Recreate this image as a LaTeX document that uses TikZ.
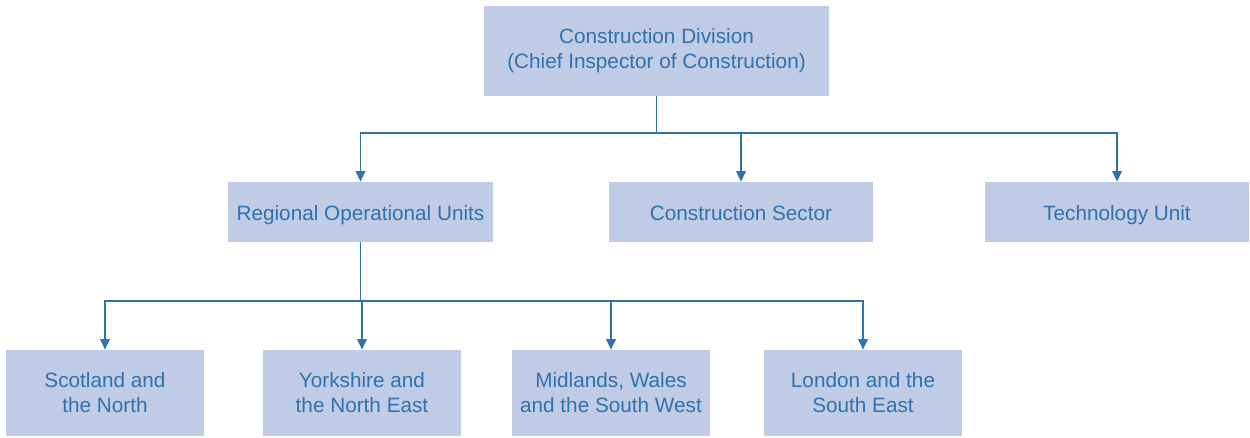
\documentclass[tikz,border=0pt]{standalone}
\usepackage{fontspec}
\setmainfont{Liberation Sans}
\usepackage{tikz}
\usetikzlibrary{arrows.meta, calc}

\definecolor{boxfill}{HTML}{C0CBE5}
\definecolor{boxblue}{HTML}{2F72AE}

\begin{document}
\begin{tikzpicture}[every node/.style={rectangle, fill=boxfill, text=boxblue, inner sep=0pt, align=center, font=\fontsize{11.8}{14.2}\selectfont},
    oneline/.style={text height=1.9ex, text depth=0.1ex},
    link/.style={draw=boxblue, line width=0.8pt},
    arr/.style={link, -{Triangle[length=6pt, width=5.5pt]}}]
    \useasboundingbox (0,0) rectangle (25,-8.74);

    \node[minimum width=6.9cm, minimum height=1.8cm] (div) at (13.13,-1.02) {Construction Division\\(Chief Inspector of Construction)};

    \node[oneline, minimum width=5.3cm, minimum height=1.2cm] (rou) at (7.21,-4.24) {Regional Operational Units};
    \node[oneline, minimum width=5.28cm, minimum height=1.2cm] (sec) at (14.82,-4.24) {Construction Sector};
    \node[oneline, minimum width=5.28cm, minimum height=1.2cm] (tec) at (22.34,-4.24) {Technology Unit};

    \node[minimum width=3.96cm, minimum height=1.72cm] (sco) at (2.10,-7.86) {Scotland and\\the North};
    \node[minimum width=3.96cm, minimum height=1.72cm] (yor) at (7.24,-7.86) {Yorkshire and\\the North East};
    \node[minimum width=3.96cm, minimum height=1.72cm] (mid) at (12.22,-7.86) {Midlands, Wales\\and the South West};
    \node[minimum width=3.96cm, minimum height=1.72cm] (lon) at (17.26,-7.86) {London and the\\South East};

    \coordinate (j1) at (13.13,-2.66);
    \coordinate (j2) at (7.21,-6.02);

    \draw[link] (div.south) -- (j1);
    \draw[arr] (j1) -| (rou.north);
    \draw[arr] (j1) -| (sec.north);
    \draw[arr] (j1) -| (tec.north);

    \draw[link] (rou.south) -- (j2);
    \draw[arr] (j2) -| (sco.north);
    \draw[arr] (j2) -| (yor.north);
    \draw[arr] (j2) -| (mid.north);
    \draw[arr] (j2) -| (lon.north);
\end{tikzpicture}
\end{document}
